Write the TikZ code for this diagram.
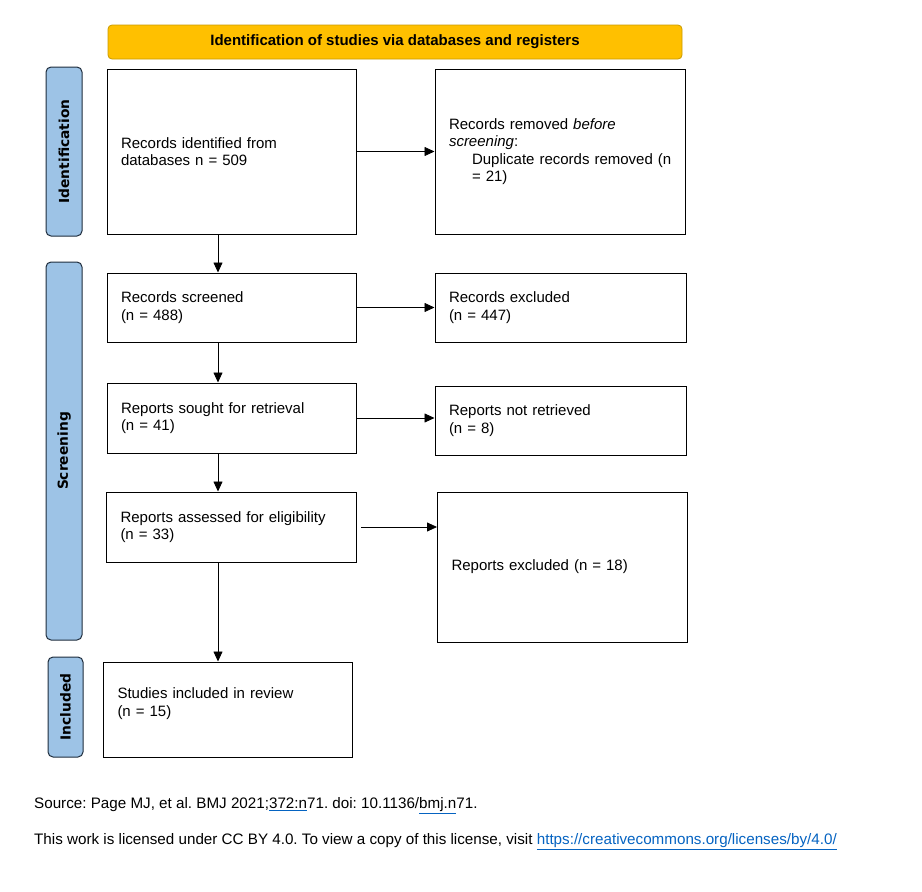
\documentclass[tikz,border=0pt]{standalone}
\usepackage{fontspec}
\setmainfont{Liberation Sans}
\newfontfamily\barfont{DejaVu Sans}
\usetikzlibrary{positioning, arrows.meta}
\definecolor{headorange}{HTML}{FFC000}
\definecolor{headedge}{HTML}{C99A00}
\definecolor{barblue}{HTML}{9DC3E6}
\definecolor{baredge}{HTML}{1F2D3D}
\definecolor{linkblue}{HTML}{0563C1}
\frenchspacing

\begin{document}
\begin{tikzpicture}[
    x=1pt, y=-1pt,
    node distance=38pt and 78pt,
    every node/.style={font=\fontsize{15}{17.5}\selectfont},
    box/.style={draw, line width=1pt, inner xsep=14pt, align=left},
    head/.style={draw=headedge, fill=headorange, rounded corners=4pt, line width=0.8pt,
      minimum width=574pt, minimum height=34pt, font=\fontsize{15}{17.5}\selectfont\bfseries},
    stage/.style={draw=baredge, fill=barblue, rounded corners=5pt, line width=1pt,
      minimum width=36pt, rotate=90, font=\barfont\fontsize{13.8}{16}\selectfont\bfseries},
    foot/.style={anchor=west, inner sep=0pt, font=\fontsize{15.2}{17.5}\selectfont},
    arrow/.style={-{Triangle[length=10pt, width=9pt]}, line width=0.8pt}
  ]
  \useasboundingbox (0,0) rectangle (922,892);

  % header and stage bars
  \node[head] (title) at (395,42) {Identification of studies via databases and registers};
  \node[stage, minimum width=169pt, minimum height=36pt] (idbar) at (64,151.5) {Identification};
  \node[stage, minimum width=378pt, minimum height=36pt] (scrbar) at (64,451) {Screening};
  \node[stage, minimum width=100pt, minimum height=35pt] (incbar) at (65.5,707) {Included};

  % left column
  \node[box, text width=221pt, minimum height=165pt] (recid) at (231.5,151.5)
    {Records identified from\\databases n = 509};
  \node[box, text width=221pt, minimum height=69pt, below=of recid] (recscr)
    {Records screened\\(n = 488)};
  \node[box, text width=221pt, minimum height=70pt, below=40pt of recscr] (repsou)
    {Reports sought for retrieval\\(n = 41)};
  \node[box, text width=222pt, minimum height=70pt, below=of repsou] (repass)
    {Reports assessed for eligibility\\(n = 33)};
  \node[box, text width=221pt, minimum height=95pt, below=99pt of repass, xshift=-3.5pt] (incl)
    {Studies included in review\\(n = 15)\\[-2.5pt]\mbox{}};

  % right column
  \node[box, text width=222pt, minimum height=165pt, right=of recid] (recrem)
    {Records removed \emph{before}\\\emph{screening}:\\
     \hspace*{23pt}\mbox{Duplicate records removed (n}\\\hspace*{23pt}= 21)};
  \node[box, text width=223pt, minimum height=69pt, right=of recscr] (recexc)
    {Records excluded\\(n = 447)};
  \node[box, text width=223pt, minimum height=69pt, right=78pt of repsou.east, yshift=-2.5pt] (repnot)
    {Reports not retrieved\\(n = 8)};
  \node[box, text width=222pt, minimum height=150pt, right=80pt of repass.north east, anchor=north west] (repexc)
    {Reports excluded (n = 18)};

  % connectors
  \coordinate (spine) at (218,0);
  \draw[arrow] (recid.south -| spine) -- (recscr.north -| spine);
  \draw[arrow] (recscr.south -| spine) -- (repsou.north -| spine);
  \draw[arrow] (repsou.south -| spine) -- (repass.north -| spine);
  \draw[arrow] (repass.south -| spine) -- (incl.north -| spine);

  \draw[arrow] (recid) -- (recrem);
  \draw[arrow] (recscr) -- (recexc);
  \draw[arrow] (repsou.east) -- (repsou.east -| repnot.west);
  \draw[arrow] ([xshift=4pt]repass.east) -- (repass.east -| repexc.west);

  % footer
  \node[foot] (source) at (34,806)
    {Source: Page MJ, et al. BMJ 2021;\textcolor{linkblue}{\underline{\textcolor{black}{372:n}}}71. doi: 10.1136/\textcolor{linkblue}{\underline{\textcolor{black}{bmj.n}}}71.};
  \node[foot] (licence) at (34,842)
    {This work is licensed under CC BY 4.0. To view a copy of this license, visit \textcolor{linkblue}{\underline{https://creativecommons.org/licenses/by/4.0/}}};
\end{tikzpicture}
\end{document}
